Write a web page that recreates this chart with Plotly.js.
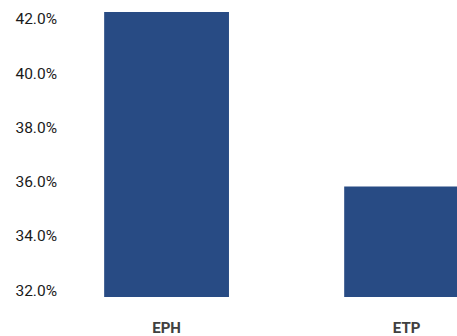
<!DOCTYPE html>
<html>
<head>
<meta charset="utf-8">
<script src="https://cdn.plot.ly/plotly-3.0.1.min.js"></script>
<style>
  html, body { margin: 0; padding: 0; background: #fff; }
  #chart { width: 457px; height: 336px; }
</style>
</head>
<body>
<div id="chart"></div>
<script>
// Share by group (%)
const categories = ['EPH', 'ETP'];
const shares = [42.26, 35.82];
const yTicks = [32, 34, 36, 38, 40, 42];
const yTickLabels = ['32.0%', '34.0%', '36.0%', '38.0%', '40.0%', '42.0%'];

const trace = {
  type: 'bar',
  x: categories,
  y: shares,
  marker: { color: '#284b84' },
  width: 0.52,
  hoverinfo: 'x+y'
};

const layout = {
  width: 457,
  height: 336,
  margin: { l: 60, r: 0, t: 0, b: 39 },
  paper_bgcolor: '#ffffff',
  plot_bgcolor: '#ffffff',
  showlegend: false,
  font: { family: 'Roboto, sans-serif', color: '#1a1a1a' },
  xaxis: {
    type: 'category',
    range: [-0.444, 1.21],
    showgrid: false,
    zeroline: false,
    showline: false,
    ticks: 'outside',
    ticklen: 17,
    tickcolor: 'rgba(0,0,0,0)',
    tickfont: { family: 'Roboto, sans-serif', size: 15, color: '#404040', weight: 'bold' }
  },
  yaxis: {
    range: [31.75, 42.7],
    tickvals: yTicks,
    ticktext: yTickLabels,
    showgrid: false,
    zeroline: false,
    showline: false,
    ticks: '',
    ticklabelstandoff: 2,
    tickfont: { family: 'Roboto, sans-serif', size: 15.5, color: '#1a1a1a' }
  }
};

Plotly.newPlot('chart', [trace], layout, { displayModeBar: false, staticPlot: true });
</script>
</body>
</html>
